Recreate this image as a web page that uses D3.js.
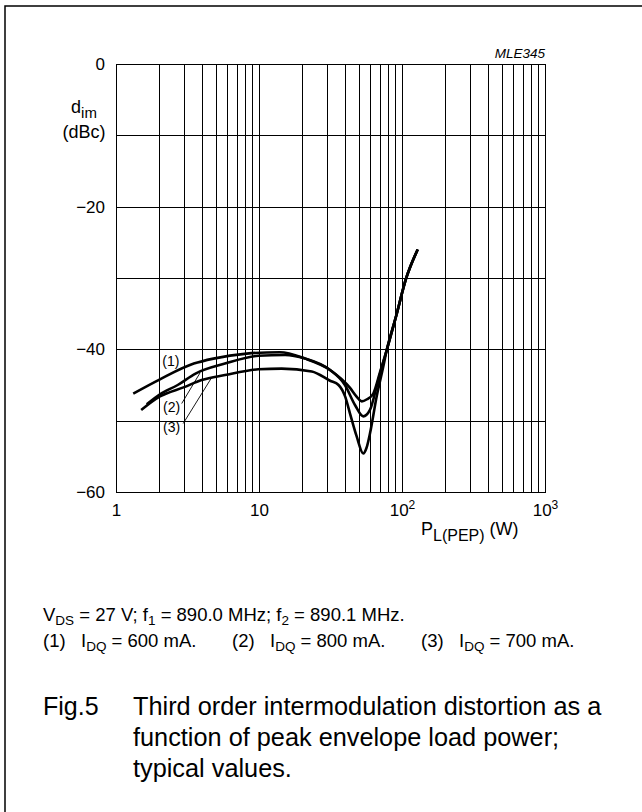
<!DOCTYPE html>
<html>
<head>
<meta charset="utf-8">
<script src="https://cdn.jsdelivr.net/npm/d3@7"></script>
<style>
	body { margin: 0; background: #fff; }
	svg { display: block; font-family: "Liberation Sans", Arial, Helvetica, sans-serif; }
</style>
</head>
<body>
<div id="chart"></div>
<script>
// curve (1): IDQ = 600 mA
var power600 = [1.32, 2.03, 3.5, 4.8, 8.2, 14, 21, 31.4, 43.3, 48, 52.3, 56.9, 63, 70.2, 78.2, 90.8, 106.7, 128.8];
var dim600   = [-46.2, -44.2, -42.0, -41.3, -40.6, -40.4, -41.3, -42.9, -45.4, -46.6, -47.3, -47.0, -46.2, -43.2, -40.1, -35.4, -30.1, -26.0];

// curve (2): IDQ = 800 mA
var power800 = [1.64, 2.03, 2.7, 3.6, 5.78, 9.9, 15.2, 21, 31.4, 39.9, 46.9, 53.6, 59.7, 66.5, 72.5, 78.2, 90.8, 106.7, 128.8];
var dim800   = [-47.7, -46.3, -45.0, -43.4, -42.0, -40.9, -40.8, -41.3, -42.9, -45.0, -47.8, -49.4, -48.5, -45.2, -42.4, -40.1, -35.4, -30.1, -26.0];

// curve (3): IDQ = 700 mA
var power700 = [1.5, 2.03, 3.0, 3.97, 5.78, 9.9, 14.4, 23.4, 31.4, 36, 40, 43.3, 48.2, 53.6, 56.5, 59.7, 66.5, 74, 78.2, 90.8, 106.7, 128.8];
var dim700   = [-48.5, -46.6, -45.3, -44.3, -43.6, -42.8, -42.7, -43.1, -44.4, -45.0, -46.6, -49.0, -52.2, -54.6, -53.8, -51.8, -46.6, -42.4, -40.1, -35.4, -30.1, -26.0];

// axes
var yTickValues = [0, -20, -40, -60];
var xTickValues = [1, 10, 100, 1000];
var xTickLabels = [['1', ''], ['10', ''], ['10', '2'], ['10', '3']];

// curve labels and their leader lines, in data units (W, dBc)
var curveLabels = [
	{ text: '(1)', p: 2.42, d: -41.6 },
	{ text: '(2)', p: 2.45, d: -48.1 },
	{ text: '(3)', p: 2.45, d: -50.9 }
];
var leader800 = [[2.88, -47.6], [3.87, -43.3]];
var leader700 = [[2.95, -50.4], [4.62, -44.1]];

// caption
var conditionNotes = [['(1)', '600'], ['(2)', '800'], ['(3)', '700']];
var captionLines = [
	'Third order intermodulation distortion as a',
	'function of peak envelope load power;',
	'typical values.'
];

(function() {
	"use strict";

	var plot = { left: 116, top: 64, right: 545, bottom: 492 };

	var svg = d3.select('#chart')
		.append('svg')
		.attr('width', 642)
		.attr('height', 812);

	// outer frame (only top and left edges are inside the page)
	svg.append('path')
		.attr('d', 'M5,812V6H642')
		.attr('fill', 'none')
		.attr('stroke', '#000')
		.attr('stroke-width', 1.5);

	var x = d3.scaleLog().domain([1, 1000]).range([plot.left, plot.right]);
	var y = d3.scaleLinear().domain([-60, 0]).range([plot.bottom, plot.top]);

	drawGrid(svg, x, y, plot);
	drawAxes(svg, x, y, plot);
	drawCurves(svg, x, y);
	drawLabels(svg, x, y);
	drawCaption(svg);

	function drawGrid(svg, x, y, plot) {
		var vGrid = svg.append('g')
			.attr('transform', 'translate(0,' + plot.bottom + ')')
			.call(d3.axisBottom(x).tickValues(x.ticks()).tickSize(-(plot.bottom - plot.top)).tickFormat(''));
		var hGrid = svg.append('g')
			.attr('transform', 'translate(' + plot.left + ',0)')
			.call(d3.axisLeft(y).ticks(6).tickSize(-(plot.right - plot.left)).tickFormat(''));

		[vGrid, hGrid].forEach(function (g) {
			g.select('.domain').remove();
			g.selectAll('line')
				.attr('stroke', '#000')
				.attr('stroke-width', 1)
				.attr('shape-rendering', 'crispEdges');
		});

		svg.append('rect')
			.attr('x', plot.left)
			.attr('y', plot.top)
			.attr('width', plot.right - plot.left)
			.attr('height', plot.bottom - plot.top)
			.attr('fill', 'none')
			.attr('stroke', '#000')
			.attr('stroke-width', 1)
			.attr('shape-rendering', 'crispEdges');
	}

	function drawAxes(svg, x, y, plot) {
		var yAxis = svg.append('g')
			.attr('transform', 'translate(' + plot.left + ',0)')
			.call(d3.axisLeft(y)
				.tickValues(yTickValues)
				.tickSize(0)
				.tickPadding(11)
				.tickFormat(function (v) { return v < 0 ? '\u2212' + Math.abs(v) : String(v); }));
		yAxis.select('.domain').remove();
		yAxis.selectAll('text')
			.attr('font-size', 17)
			.attr('font-family', null)
			.attr('fill', '#000');

		var xAxis = svg.append('g')
			.attr('transform', 'translate(0,' + plot.bottom + ')')
			.call(d3.axisBottom(x)
				.tickValues(xTickValues)
				.tickSize(0)
				.tickPadding(12)
				.tickFormat(''));
		xAxis.select('.domain').remove();
		xAxis.selectAll('text')
			.attr('font-size', 17)
			.attr('font-family', null)
			.attr('fill', '#000')
			.each(function (v, i) {
				var t = d3.select(this);
				t.append('tspan').text(xTickLabels[i][0]);
				if (xTickLabels[i][1]) {
					t.append('tspan').attr('dy', -7).attr('font-size', 12).text(xTickLabels[i][1]);
				}
			});

		// y title: d_im (dBc)
		var yt = svg.append('text')
			.attr('x', 84)
			.attr('y', 113)
			.attr('text-anchor', 'middle')
			.attr('font-size', 18);
		yt.append('tspan').text('d');
		yt.append('tspan').attr('dy', 5).attr('font-size', 15).text('im');
		svg.append('text')
			.attr('x', 84)
			.attr('y', 138)
			.attr('text-anchor', 'middle')
			.attr('font-size', 18)
			.text('(dBc)');

		// x title: P_L(PEP) (W)
		var xt = svg.append('text')
			.attr('x', 421)
			.attr('y', 535)
			.attr('font-size', 18);
		xt.append('tspan').text('P');
		xt.append('tspan').attr('dy', 6).attr('font-size', 16).text('L(PEP)');
		xt.append('tspan').attr('dy', -6).text(' (W)');

		svg.append('text')
			.attr('x', plot.right)
			.attr('y', 58)
			.attr('text-anchor', 'end')
			.attr('font-size', 13.5)
			.attr('font-style', 'italic')
			.text('MLE345');
	}

	function drawCurves(svg, x, y) {
		var line = d3.line()
			.x(function (p) { return x(p[0]); })
			.y(function (p) { return y(p[1]); })
			.curve(d3.curveMonotoneX);

		var series = [
			d3.zip(power700, dim700),
			d3.zip(power800, dim800),
			d3.zip(power600, dim600)
		];

		svg.append('g')
			.selectAll('path')
			.data(series)
			.enter()
			.append('path')
			.attr('d', line)
			.attr('fill', 'none')
			.attr('stroke', '#000')
			.attr('stroke-width', 2.6)
			.attr('stroke-linejoin', 'round')
			.attr('stroke-linecap', 'butt');
	}

	function drawLabels(svg, x, y) {
		svg.append('g')
			.selectAll('text')
			.data(curveLabels)
			.enter()
			.append('text')
			.attr('x', function (l) { return x(l.p); })
			.attr('y', function (l) { return y(l.d); })
			.attr('dy', '0.36em')
			.attr('text-anchor', 'middle')
			.attr('font-size', 14)
			.text(function (l) { return l.text; });

		svg.append('g')
			.selectAll('line')
			.data([leader800, leader700])
			.enter()
			.append('line')
			.attr('x1', function (l) { return x(l[0][0]); })
			.attr('y1', function (l) { return y(l[0][1]); })
			.attr('x2', function (l) { return x(l[1][0]); })
			.attr('y2', function (l) { return y(l[1][1]); })
			.attr('stroke', '#000')
			.attr('stroke-width', 0.9);
	}

	function drawCaption(svg) {
		var l1 = svg.append('text').attr('x', 43).attr('y', 621).attr('font-size', 18.5);
		appendRun(l1, [['V'], ['DS', 'sub'], [' = 27 V; f'], ['1', 'sub'], [' = 890.0 MHz; f'], ['2', 'sub'], [' = 890.1 MHz.']]);

		conditionNotes.forEach(function (c, i) {
			var left = 43 + i * 189;
			svg.append('text').attr('x', left).attr('y', 647).attr('font-size', 18.5).text(c[0]);
			var t = svg.append('text').attr('x', left + 38).attr('y', 647).attr('font-size', 18.5);
			appendRun(t, [['I'], ['DQ', 'sub'], [' = ' + c[1] + ' mA.']]);
		});

		svg.append('text').attr('x', 43).attr('y', 715).attr('font-size', 25).text('Fig.5');
		captionLines.forEach(function (s, i) {
			svg.append('text')
				.attr('x', 133)
				.attr('y', 715 + i * 31)
				.attr('font-size', 25.3)
				.text(s);
		});
	}

	function appendRun(text, parts) {
		var shifted = false;
		parts.forEach(function (part) {
			var ts = text.append('tspan').text(part[0]);
			if (part[1] === 'sub') {
				ts.attr('font-size', 13.5).attr('dy', 4);
				shifted = true;
			} else if (shifted) {
				ts.attr('dy', -4);
				shifted = false;
			}
		});
	}
}());
</script>
</body>
</html>
